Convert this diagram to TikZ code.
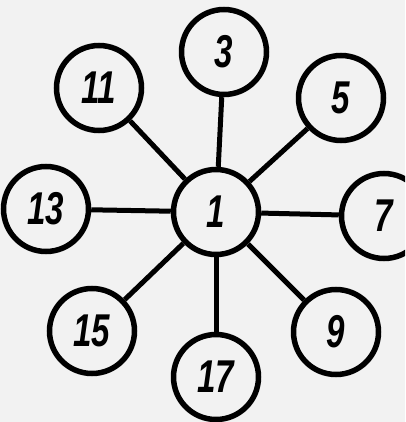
\documentclass[tikz,border=0pt]{standalone}
\usepackage{fontspec}
\usepackage{graphicx}
\newfontfamily\handfont{Liberation Sans}
\definecolor{paper}{gray}{0.95}
\tikzset{
  numnode/.style={circle, draw=black, line width=5.5pt, fill=paper, minimum size=85pt, inner sep=0pt,
    font=\handfont\bfseries\itshape\fontsize{46}{46}\selectfont},
  link/.style={line width=5pt, black}
}
\newcommand{\hn}[1]{\scalebox{0.72}[1]{#1}}
\begin{document}
\begin{tikzpicture}[x=1pt,y=-1pt]
\useasboundingbox (0,0) rectangle (405,422);
\fill[paper] (0,0) rectangle (405,422);
\clip (0,0) rectangle (405,422);
\node[numnode] (n1)  at (216,212) {\hn{1}};
\node[numnode] (n3)  at (224,52)  {\hn{3}};
\node[numnode] (n5)  at (341,98)  {\hn{5}};
\node[numnode] (n7)  at (384,216) {\hn{7}};
\node[numnode] (n9)  at (336,332) {\hn{9}};
\node[numnode] (n17) at (216,377) {\hn{17}};
\node[numnode] (n15) at (92,331)  {\hn{15}};
\node[numnode] (n13) at (46,209)  {\hn{13}};
\node[numnode] (n11) at (99,88)   {\hn{11}};
\foreach \t in {n3,n5,n7,n9,n17,n15,n13,n11}
  \draw[link] (n1) -- (\t);
\end{tikzpicture}
\end{document}
